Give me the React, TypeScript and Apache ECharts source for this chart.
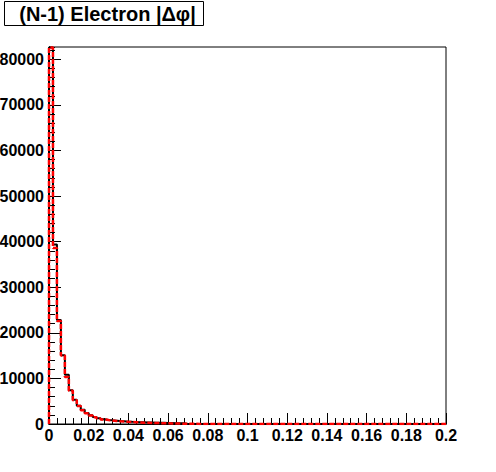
import React, { useEffect, useRef } from "react";
import * as echarts from "echarts";

// Histogram: (N-1) Electron |Δφ|, 100 bins of width 0.002 from 0 to 0.2
const binWidth = 0.002;
const xMin = 0;
const xMax = 0.2;
const yMax = 82700;

const blackCounts = [
  82600, 39400, 22800, 15100, 10800, 7400, 5300, 4000, 3100, 2400,
  1900, 1550, 1250, 1050, 900, 800, 720, 640, 580, 520,
  470, 430, 390, 360, 330, 310, 290, 270, 250, 230,
  210, 190, 170, 150, 0, 0, 0, 0, 0, 0,
  0, 0, 0, 0, 0, 0, 0, 0, 0, 0,
  0, 0, 0, 0, 0, 0, 0, 0, 0, 0,
  0, 0, 0, 0, 0, 0, 0, 0, 0, 0,
  0, 0, 0, 0, 0, 0, 0, 0, 0, 0,
  0, 0, 0, 0, 0, 0, 0, 0, 0, 0,
  0, 0, 0, 0, 0, 0, 0, 0, 0, 0,
];

const redCounts = [
  82600, 38600, 22600, 15000, 10300, 7300, 5200, 3950, 3000, 2350,
  1850, 1500, 1200, 1000, 860, 760, 680, 600, 540, 480,
  430, 380, 340, 300, 270, 240, 210, 190, 170, 150,
  130, 110, 90, 70, 50, 40, 30, 20, 10, 0,
  0, 0, 0, 0, 0, 0, 0, 0, 0, 0,
  0, 0, 0, 0, 0, 0, 0, 0, 0, 0,
  0, 0, 0, 0, 0, 0, 0, 0, 0, 0,
  0, 0, 0, 0, 0, 0, 0, 0, 0, 0,
  0, 0, 0, 0, 0, 0, 0, 0, 0, 0,
  0, 0, 0, 0, 0, 0, 0, 0, 0, 0,
];

const titleText = "(N-1) Electron |Δφ|";

const FONT = '"Liberation Sans", Arial, Helvetica, sans-serif';

function stepData(counts: number[]): [number, number][] {
  const pts: [number, number][] = [[xMin, 0]];
  counts.forEach((c, i) => {
    pts.push([+(xMin + i * binWidth).toFixed(4), c]);
  });
  const last = counts[counts.length - 1];
  pts.push([xMax, last]);
  pts.push([xMax, 0]);
  return pts;
}

function fmtX(v: number): string {
  return String(+v.toFixed(3));
}

export default function App() {
  const ref = useRef<HTMLDivElement>(null);

  useEffect(() => {
    if (!ref.current) return;
    const chart = echarts.init(ref.current, undefined, { renderer: "svg" });
    const labelStyle = {
      fontFamily: FONT,
      fontWeight: "bold" as const,
      fontSize: 16,
      color: "#000",
    };
    const axisLine = { show: true, lineStyle: { color: "#000", width: 1 } };
    chart.setOption({
      animation: false,
      backgroundColor: "#fff",
      grid: {
        left: 49,
        right: 50,
        top: 47,
        bottom: 48,
        show: true,
        borderColor: "#000",
        borderWidth: 1,
        backgroundColor: "transparent",
        outerBoundsMode: "none",
        containLabel: false,
      },
      xAxis: [
        {
          type: "value",
          position: "bottom",
          min: xMin,
          max: xMax,
          interval: 0.004,
          axisLine,
          axisTick: { show: true, inside: true, length: 6, lineStyle: { color: "#000" } },
          axisLabel: { show: false },
          splitLine: { show: false },
        },
        {
          type: "value",
          position: "bottom",
          min: xMin,
          max: xMax,
          interval: 0.02,
          axisLine,
          axisTick: { show: true, inside: true, length: 11, lineStyle: { color: "#000" } },
          axisLabel: { ...labelStyle, margin: 3, formatter: (v: number) => fmtX(v) },
          splitLine: { show: false },
        },
      ],
      yAxis: [
        {
          type: "value",
          position: "left",
          min: 0,
          max: yMax,
          interval: 2000,
          axisLine,
          axisTick: { show: true, inside: true, length: 6, lineStyle: { color: "#000" } },
          axisLabel: { show: false },
          splitLine: { show: false },
        },
        {
          type: "value",
          position: "left",
          min: 0,
          max: yMax,
          interval: 10000,
          axisLine,
          axisTick: { show: true, inside: true, length: 12, lineStyle: { color: "#000" } },
          axisLabel: {
            ...labelStyle,
            margin: 5,
            showMaxLabel: false,
            formatter: (v: number) => String(Math.round(v)),
          },
          splitLine: { show: false },
        },
      ],
      series: [
        {
          type: "line",
          name: "black",
          xAxisIndex: 0,
          yAxisIndex: 0,
          step: "end",
          symbol: "none",
          data: stepData(blackCounts),
          lineStyle: { color: "#000", width: 2 },
          z: 3,
        },
        {
          type: "line",
          name: "red",
          xAxisIndex: 0,
          yAxisIndex: 0,
          step: "end",
          symbol: "none",
          data: stepData(redCounts),
          lineStyle: { color: "#ff0000", width: 2.5, type: [5, 2] },
          z: 4,
        },
      ],
      graphic: [
        {
          type: "rect",
          shape: { x: 4.5, y: 1.5, width: 199, height: 24 },
          style: { fill: "#fff", stroke: "#000", lineWidth: 1 },
          z: 10,
        },
        {
          type: "text",
          x: 107.5,
          y: 13.5,
          style: {
            text: titleText,
            font: `bold 20px ${FONT}`,
            fill: "#000",
            align: "center",
            verticalAlign: "middle",
          },
          z: 11,
        },
      ],
    });
    return () => chart.dispose();
  }, []);

  return (
    <div
      ref={ref}
      style={{ position: "fixed", left: 0, top: 0, width: 496, height: 472 }}
    />
  );
}
